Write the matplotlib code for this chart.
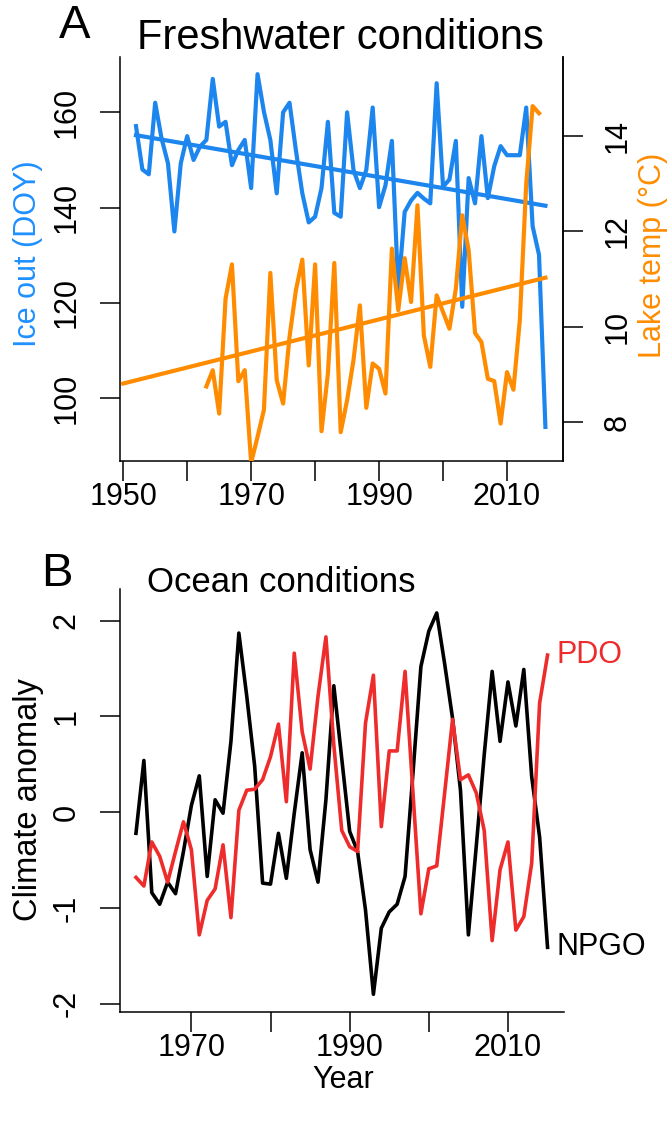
import matplotlib
matplotlib.use("Agg")
import matplotlib.pyplot as plt
import numpy as np

plt.rcParams["font.family"] = ["Liberation Sans", "DejaVu Sans"]

# Freshwater: ice-out day of year and lake temperature
ice_years = np.arange(1952, 2017)
ice_out = [157.1, 148.0, 147.0, 162.0, 154.5, 149.3, 135.0, 149.3, 155.0, 150.0,
           152.8, 154.2, 167.0, 157.0, 158.0, 148.9, 152.1, 154.2, 144.1, 168.0,
           160.1, 154.2, 143.0, 160.0, 162.0, 152.0, 143.0, 136.9, 138.1, 144.1,
           158.0, 138.9, 138.1, 160.0, 147.9, 144.1, 147.9, 161.0, 140.1, 144.7,
           154.0, 122.7, 139.1, 141.5, 143.1, 141.9, 140.9, 166.1, 144.4, 145.9,
           154.0, 119.2, 146.2, 140.9, 155.0, 142.0, 148.7, 152.9, 151.0, 151.0,
           151.0, 161.0, 136.1, 130.1, 94.0]
ice_trend_years = [1952, 2016]
ice_trend = [155.2, 140.4]

temp_years = np.arange(1963, 2016)
lake_temp = [8.75, 9.09, 8.18, 10.59, 11.31, 8.86, 9.09, 7.15, 7.69, 8.26,
             11.13, 8.88, 8.39, 9.79, 10.77, 11.41, 9.19, 11.31, 7.81, 9.02,
             11.34, 7.79, 8.46, 9.30, 10.45, 8.30, 9.23, 9.12, 8.60, 11.64,
             10.35, 11.44, 10.52, 12.55, 9.82, 9.16, 10.66, 10.31, 9.96, 10.80,
             12.34, 11.61, 9.87, 9.68, 8.91, 8.86, 7.97, 9.05, 8.68, 10.14,
             13.00, 14.63, 14.48]
temp_trend_years = [1950, 2016]
temp_trend = [8.81, 11.03]

# Ocean: climate indices
ocean_years = np.arange(1963, 2016)
npgo = [-0.22, 0.54, -0.84, -0.96, -0.73, -0.85, -0.41, 0.07, 0.38, -0.67,
        0.13, -0.01, 0.74, 1.87, 1.21, 0.48, -0.74, -0.75, -0.22, -0.69,
        -0.01, 0.62, -0.39, -0.73, 0.13, 1.32, 0.56, -0.20, -0.41, -1.02,
        -1.90, -1.21, -1.04, -0.96, -0.67, 0.41, 1.52, 1.89, 2.08, 1.55,
        0.98, 0.23, -1.28, -0.35, 0.60, 1.47, 0.74, 1.36, 0.90, 1.49,
        0.37, -0.26, -1.41]
pdo = [-0.68, -0.77, -0.31, -0.46, -0.73, -0.41, -0.10, -0.39, -1.28, -0.92,
       -0.80, -0.34, -1.10, 0.02, 0.23, 0.24, 0.34, 0.58, 0.92, 0.11,
       1.66, 0.84, 0.45, 1.21, 1.83, 0.70, -0.19, -0.36, -0.41, 0.93,
       1.43, -0.15, 0.64, 0.64, 1.47, 0.20, -1.06, -0.59, -0.56, 0.20,
       0.97, 0.34, 0.39, 0.20, -0.19, -1.34, -0.60, -0.31, -1.23, -1.09,
       -0.53, 1.14, 1.64]

BLUE = "#1C86EE"
BLUE_LAB = "#1E90FF"
ORANGE = "#FF8C00"
RED = "#EE2C2C"

W, H = 671, 1122
fig = plt.figure(figsize=(W / 100, H / 100), dpi=100)

tick_kw = dict(direction="out", length=14.4, width=1.1, labelsize=22)


def style_axis(ax, hide):
    for s in hide:
        ax.spines[s].set_visible(False)
    for s in ax.spines.values():
        s.set_linewidth(1.1)


# ---- panel A ----
axA = fig.add_axes([120 / W, 1 - 461 / H, 443 / W, 404 / H])
axA.plot(ice_years, ice_out, color=BLUE, lw=3.0, solid_joinstyle="round")
axA.plot(ice_trend_years, ice_trend, color=BLUE, lw=3.0)
axA.set_xlim(1949.5, 2018.75)
axA.set_ylim(86.85, 171.6)
style_axis(axA, ["top"])
axA.tick_params(**tick_kw)
axA.tick_params(axis="x", pad=1)
axA.tick_params(axis="y", pad=13)
axA.set_xticks(range(1950, 2011, 10))
axA.set_xticklabels(["1950", "", "1970", "", "1990", "", "2010"])
axA.set_yticks([100, 120, 140, 160])
axA.set_yticklabels(["100", "120", "140", "160"], rotation=90, va="center")

axT = axA.twinx()
axT.plot(temp_years, lake_temp, color=ORANGE, lw=3.0, solid_joinstyle="round")
axT.plot(temp_trend_years, temp_trend, color=ORANGE, lw=3.0)
axT.set_ylim(7.185, 15.66)
style_axis(axT, ["top", "left", "bottom"])
axT.tick_params(**tick_kw)
axT.tick_params(axis="y", pad=14)
axT.set_yticks([8, 10, 12, 14])
axT.set_yticklabels(["8", "10", "12", "14"], rotation=90, va="center")

fig.text(75 / W, 1 - 26 / H, "A", fontsize=34, ha="center", va="center")
fig.text(340 / W, 1 - 38 / H, "Freshwater conditions", fontsize=30,
         ha="center", va="center")
fig.text(28 / W, 1 - 254 / H, "Ice out (DOY)", fontsize=22, color=BLUE_LAB,
         rotation=90, ha="center", va="center")
fig.text(653 / W, 1 - 255 / H, "Lake temp (°C)", fontsize=22, color=ORANGE,
         rotation=90, ha="center", va="center")

# ---- panel B ----
axB = fig.add_axes([119.5 / W, 1 - 1012 / H, 444.5 / W, 423 / H])
axB.plot(ocean_years, npgo, color="black", lw=2.6, solid_joinstyle="round")
axB.plot(ocean_years, pdo, color=RED, lw=2.6, solid_joinstyle="round")
axB.set_xlim(1960.92, 2017.08)
axB.set_ylim(-2.085, 2.33)
style_axis(axB, ["top", "right"])
axB.tick_params(**tick_kw)
axB.tick_params(axis="x", pad=1)
axB.tick_params(axis="y", pad=13)
axB.set_xticks(range(1970, 2011, 10))
axB.set_xticklabels(["1970", "", "1990", "", "2010"])
axB.set_yticks([-2, -1, 0, 1, 2])
axB.set_yticklabels(["-2", "-1", "0", "1", "2"], rotation=90, va="center")

axB.text(ocean_years[-1] + 1.1, pdo[-1], "PDO", color=RED, fontsize=22,
         ha="left", va="center", clip_on=False)
axB.text(ocean_years[-1] + 1.1, npgo[-1], "NPGO", color="black", fontsize=22,
         ha="left", va="center", clip_on=False)

fig.text(57 / W, 1 - 574 / H, "B", fontsize=34, ha="center", va="center")
fig.text(281 / W, 1 - 583 / H, "Ocean conditions", fontsize=25,
         ha="center", va="center")
fig.text(28 / W, 1 - 800 / H, "Climate anomaly", fontsize=23.5,
         rotation=90, ha="center", va="center")
fig.text(343 / W, 1 - 1080 / H, "Year", fontsize=22, ha="center", va="center")

fig.savefig("out.png", dpi=100)
